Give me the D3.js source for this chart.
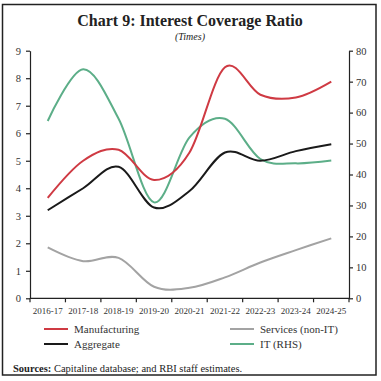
<!DOCTYPE html>
<html><head><meta charset="utf-8">
<script src="https://cdn.jsdelivr.net/npm/d3@7"></script>
<style>body{margin:0;background:#fff}svg{display:block}</style>
</head><body>
<svg id="c" width="381" height="381"></svg>
<script>
const categories = ["2016-17","2017-18","2018-19","2019-20","2020-21","2021-22","2022-23","2023-24","2024-25"];
const manufacturing = [3.65, 5.0, 5.4, 4.3, 5.3, 8.4, 7.4, 7.3, 7.88];
const services = [1.85, 1.35, 1.47, 0.42, 0.38, 0.76, 1.3, 1.75, 2.18];
const aggregate = [3.2, 4.0, 4.78, 3.3, 3.9, 5.3, 5.0, 5.35, 5.6];
const itRHS = [57.3, 74, 58, 31, 52, 58, 45, 43.6, 44.5];
const leftTicks = [0,1,2,3,4,5,6,7,8,9];
const rightTicks = [0,10,20,30,40,50,60,70,80];

const colors = {man:"#cf3a43", svc:"#a3a3a3", agg:"#1a1a1a", it:"#5cae88"};
const font = "Liberation Serif, Times New Roman, serif";
const svg = d3.select("#c");
const L = 30, R = 349, T = 50.7, B = 298.3;

svg.append("rect").attr("x",2.5).attr("y",4.5).attr("width",373.5).attr("height",370.5)
  .attr("fill","none").attr("stroke","#222").attr("stroke-width",1.5);

svg.append("text").attr("x",190).attr("y",26).attr("text-anchor","middle")
  .attr("font-family",font).attr("font-weight","bold").attr("font-size",16).attr("fill","#222")
  .text("Chart 9: Interest Coverage Ratio");
svg.append("text").attr("x",190).attr("y",39.5).attr("text-anchor","middle")
  .attr("font-family",font).attr("font-style","italic").attr("font-size",10).attr("fill","#222")
  .text("(Times)");

const x = d3.scaleBand().domain(categories).range([L,R]);
const yL = d3.scaleLinear().domain([0,9]).range([B,T]);
const yR = d3.scaleLinear().domain([0,80]).range([B,T]);

function styleAxis(g){
  g.selectAll("path,line").attr("stroke","#222").attr("stroke-width",1.2);
  g.selectAll("text").attr("font-family",font).attr("fill","#333");
}
const gL = svg.append("g").attr("transform",`translate(${L},0)`)
  .call(d3.axisLeft(yL).tickValues(leftTicks).tickSize(4).tickSizeOuter(0).tickPadding(5));
styleAxis(gL); gL.selectAll("text").attr("font-size",10.5);
const gR = svg.append("g").attr("transform",`translate(${R},0)`)
  .call(d3.axisRight(yR).tickValues(rightTicks).tickSize(4).tickSizeOuter(0).tickPadding(3));
styleAxis(gR); gR.selectAll("text").attr("font-size",10.5);

// bottom axis: ticks at band boundaries
const gB = svg.append("g").attr("transform",`translate(0,${B})`);
gB.append("line").attr("x1",L).attr("x2",R).attr("stroke","#222").attr("stroke-width",1.2);
const bounds = categories.map(c=>x(c)).concat([R]);
gB.selectAll("line.tk").data(bounds).enter().append("line").attr("class","tk")
  .attr("x1",d=>d).attr("x2",d=>d).attr("y1",0).attr("y2",4).attr("stroke","#222").attr("stroke-width",1.2);
gB.selectAll("text").data(categories).enter().append("text")
  .attr("x",d=>x(d)+x.bandwidth()/2).attr("y",16).attr("text-anchor","middle")
  .attr("font-family",font).attr("font-size",9).attr("fill","#333").text(d=>d);

const cx = (d,i)=>x(categories[i])+x.bandwidth()/2;
const curve = d3.curveCardinal.tension(0);
function draw(vals, scale, color){
  svg.append("path").datum(vals)
    .attr("d", d3.line().x(cx).y(d=>scale(d)).curve(curve))
    .attr("fill","none").attr("stroke",color).attr("stroke-width",2);
}
draw(services, yL, colors.svc);
draw(itRHS, yR, colors.it);
draw(manufacturing, yL, colors.man);
draw(aggregate, yL, colors.agg);

const legend = [
  {name:"Manufacturing", c:colors.man, x:44, y:329},
  {name:"Services (non-IT)", c:colors.svc, x:230, y:329},
  {name:"Aggregate", c:colors.agg, x:44, y:344},
  {name:"IT (RHS)", c:colors.it, x:230, y:344}
];
legend.forEach(l=>{
  svg.append("line").attr("x1",l.x).attr("x2",l.x+24).attr("y1",l.y).attr("y2",l.y)
    .attr("stroke",l.c).attr("stroke-width",2);
  svg.append("text").attr("x",l.x+30).attr("y",l.y+3.5).attr("font-family",font)
    .attr("font-size",11).attr("fill","#333").text(l.name);
});
const src = svg.append("text").attr("x",13).attr("y",372).attr("font-family",font).attr("font-size",10.5).attr("fill","#222");
src.append("tspan").attr("font-weight","bold").text("Sources:");
src.append("tspan").text(" Capitaline database; and RBI staff estimates.");
</script>
</body></html>
